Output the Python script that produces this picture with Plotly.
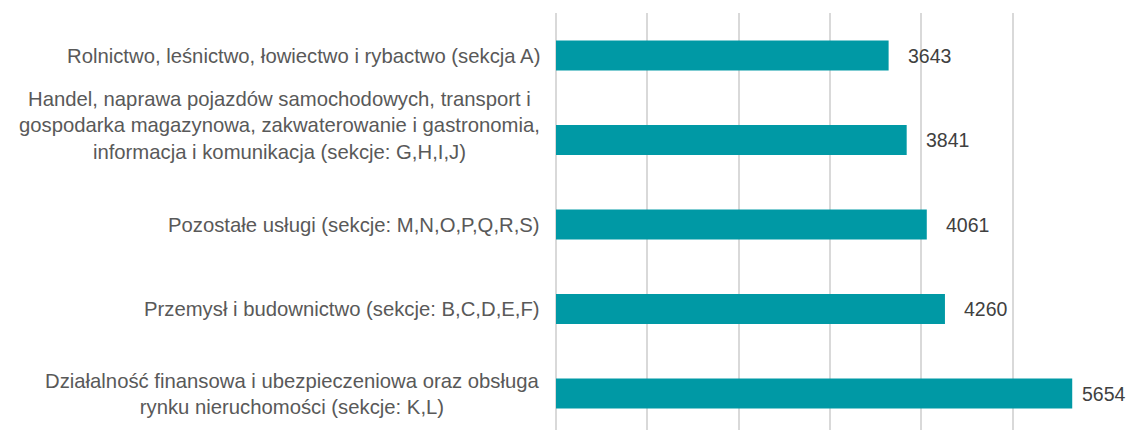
import plotly.graph_objects as go

categories = [
    "Rolnictwo, leśnictwo, łowiectwo i rybactwo (sekcja A)",
    "Handel, naprawa pojazdów samochodowych, transport i<br>gospodarka magazynowa, zakwaterowanie i gastronomia,<br>informacja i komunikacja (sekcje: G,H,I,J)",
    "Pozostałe usługi (sekcje: M,N,O,P,Q,R,S)",
    "Przemysł i budownictwo (sekcje: B,C,D,E,F)",
    "Działalność finansowa i ubezpieczeniowa oraz obsługa<br>rynku nieruchomości (sekcje: K,L)",
]
values = [3643, 3841, 4061, 4260, 5654]
value_labels = ["3643", "3841", "4061", "4260", "5654"]

# styling offsets (pixels) for the category and value labels
cat_yshift = [0, 15, 0, 0, 0]
val_xshift = [17, 17, 17, 17, 8]

FONT = "Liberation Sans, Arial, sans-serif"
BAR_COLOR = "#0099a5"

fig = go.Figure()
fig.add_trace(go.Bar(
    x=values,
    y=list(range(len(categories))),
    orientation="h",
    marker=dict(color=BAR_COLOR, line=dict(width=0)),
    width=0.355,
    hoverinfo="skip",
))

annotations = []
for i, (cat, v, lab) in enumerate(zip(categories, values, value_labels)):
    annotations.append(dict(
        x=0, y=i, xref="paper", yref="y",
        text=cat, showarrow=False, xanchor="right", yanchor="middle",
        align="center", xshift=-14, yshift=cat_yshift[i],
        font=dict(family=FONT, size=20.3, color="#595959"),
    ))
    annotations.append(dict(
        x=v, y=i, xref="x", yref="y",
        text=lab, showarrow=False, xanchor="left", yanchor="middle",
        xshift=val_xshift[i],
        font=dict(family=FONT, size=19.5, color="#404040"),
    ))

fig.update_layout(
    width=1128, height=430,
    margin=dict(l=556, r=24, t=13, b=0),
    paper_bgcolor="white", plot_bgcolor="white",
    showlegend=False,
    annotations=annotations,
    xaxis=dict(
        range=[0, 6002], dtick=1000, tick0=0,
        showgrid=True, gridcolor="#d9d9d9", gridwidth=1.5,
        zeroline=True, zerolinecolor="#d9d9d9", zerolinewidth=1.5,
        showticklabels=False, showline=False, ticks="",
    ),
    yaxis=dict(
        range=[4.432, -0.503],
        showgrid=False, zeroline=False, showticklabels=False,
        showline=False, ticks="",
    ),
)

fig.write_html(
    "out.html",
    config={"displayModeBar": False},
    post_script="document.body.style.margin='0';document.body.style.padding='0';",
)
